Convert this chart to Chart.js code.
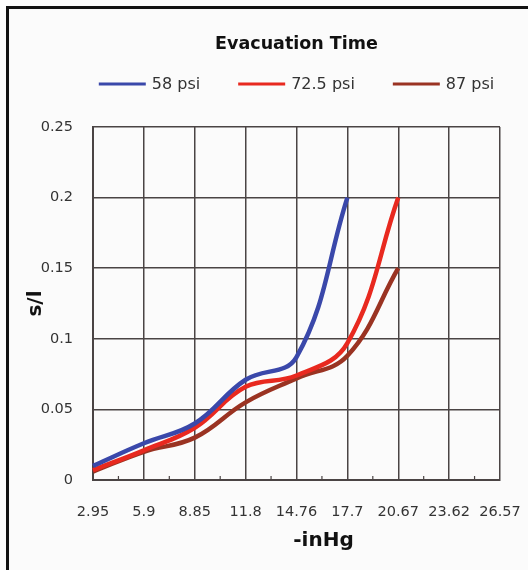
<!DOCTYPE html>
<html>
<head>
<meta charset="utf-8">
<script src="https://cdn.jsdelivr.net/npm/chart.js@4/dist/chart.umd.min.js"></script>
<style>
  html, body { margin: 0; padding: 0; background: #ffffff; overflow: hidden; }
  #wrap { position: relative; width: 528px; height: 570px; overflow: hidden; background: #ffffff; }
  #frame { position: absolute; left: 6px; top: 6px; right: 0; bottom: 0;
           border-left: 3px solid #141414; border-top: 3px solid #141414; background: #fbfbfb; }
  #c { position: absolute; left: 0; top: 0; }
</style>
</head>
<body>
<div id="wrap">
  <div id="frame"></div>
  <canvas id="c" width="528" height="570"></canvas>
</div>
<script>
// Vacuum levels (-inHg)
const pressureLabels = ['2.95', '5.9', '8.85', '11.8', '14.76', '17.7', '20.67', '23.62', '26.57'];

// Evacuation time (s/l) per supply pressure
const psi58 = [0.010, 0.026, 0.040, 0.071, 0.087, 0.200, null, null, null];
const psi72_5 = [0.007, 0.021, 0.037, 0.066, 0.074, 0.097, 0.200, null, null];
const psi87 = [0.006, 0.020, 0.030, 0.055, 0.072, 0.088, 0.150, null, null];

const seriesNames = ['58 psi', '72.5 psi', '87 psi'];
const seriesColors = ['#3a48aa', '#e8291f', '#9a3322'];

const FONT = '"DejaVu Sans", "Liberation Sans", Arial, sans-serif';
const GRID = '#4a4444';

// Legend row above the plot: short line swatch followed by the series name
const lineLegend = {
  id: 'lineLegend',
  afterDraw(chart) {
    const ctx = chart.ctx;
    const area = chart.chartArea;
    const swatch = 47, gap = 6, spacing = 38;
    ctx.save();
    ctx.font = '16px ' + FONT;
    const items = chart.data.datasets.map(ds => ({ ds, w: ctx.measureText(ds.label).width }));
    let total = 0;
    items.forEach((it, i) => { total += swatch + gap + it.w + (i ? spacing : 0); });
    let x = (area.left + area.right) / 2 - total / 2;
    const y = area.top - 43;
    items.forEach(it => {
      ctx.strokeStyle = it.ds.borderColor;
      ctx.lineWidth = 3;
      ctx.beginPath();
      ctx.moveTo(x, y);
      ctx.lineTo(x + swatch, y);
      ctx.stroke();
      ctx.fillStyle = '#333333';
      ctx.textBaseline = 'middle';
      ctx.textAlign = 'left';
      ctx.fillText(it.ds.label, x + swatch + gap, y + 1);
      x += swatch + gap + it.w + spacing;
    });
    ctx.restore();
  }
};

// Minor tick marks midway between the category gridlines, plus the x-axis title
const axisExtras = {
  id: 'axisExtras',
  afterDatasetsDraw(chart) {
    const ctx = chart.ctx;
    const xs = chart.scales.x;
    const area = chart.chartArea;
    ctx.save();
    ctx.strokeStyle = GRID;
    ctx.lineWidth = 1.2;
    for (let i = 0; i < pressureLabels.length - 1; i++) {
      const mx = (xs.getPixelForValue(i) + xs.getPixelForValue(i + 1)) / 2;
      ctx.beginPath();
      ctx.moveTo(mx, area.bottom);
      ctx.lineTo(mx, area.bottom - 4);
      ctx.stroke();
    }
    ctx.fillStyle = '#111111';
    ctx.font = 'bold 20px ' + FONT;
    ctx.textAlign = 'center';
    ctx.textBaseline = 'middle';
    ctx.fillText('-inHg', (area.left + area.right) / 2 + 27, area.bottom + 61);
    ctx.restore();
  }
};

const mkSet = (label, data, color) => ({
  label, data,
  borderColor: color,
  backgroundColor: color,
  borderWidth: 4.5,
  pointRadius: 0,
  tension: 0.4,
  fill: false
});

new Chart(document.getElementById('c'), {
  type: 'line',
  data: {
    labels: pressureLabels,
    datasets: [
      mkSet(seriesNames[0], psi58, seriesColors[0]),
      mkSet(seriesNames[1], psi72_5, seriesColors[1]),
      mkSet(seriesNames[2], psi87, seriesColors[2])
    ]
  },
  options: {
    responsive: false,
    animation: false,
    events: [],
    layout: { padding: { left: 10, right: 28, top: 0, bottom: 0 } },
    plugins: {
      legend: { display: false },
      tooltip: { enabled: false },
      title: {
        display: true,
        text: 'Evacuation Time',
        fullSize: false,
        color: '#111111',
        font: { family: FONT, size: 17.5, weight: 'bold' },
        padding: { top: 34, bottom: 72 }
      }
    },
    scales: {
      x: {
        type: 'category',
        offset: false,
        grid: { color: GRID, lineWidth: 1.5, drawTicks: false },
        border: { color: GRID, width: 2 },
        ticks: { color: '#333333', padding: 24, maxRotation: 0, autoSkip: false,
                 font: { family: FONT, size: 14.5 } },
        afterFit(scale) {
          scale.height = 90;
          scale.paddingLeft = 0;
          scale.paddingRight = 0;
        }
      },
      y: {
        min: 0, max: 0.25,
        grid: { color: GRID, lineWidth: 1.5, drawTicks: false },
        border: { color: GRID, width: 2 },
        ticks: { stepSize: 0.05, color: '#333333', padding: 20,
                 font: { family: FONT, size: 14.5 },
                 callback: v => String(Number(v.toFixed(2))) },
        title: { display: true, text: 's/l', color: '#111111',
                 font: { family: FONT, size: 20, weight: 'bold' },
                 padding: { top: 14, bottom: 0 } },
        afterFit(scale) { scale.width = 83; }
      }
    }
  },
  plugins: [lineLegend, axisExtras]
});
</script>
</body>
</html>
